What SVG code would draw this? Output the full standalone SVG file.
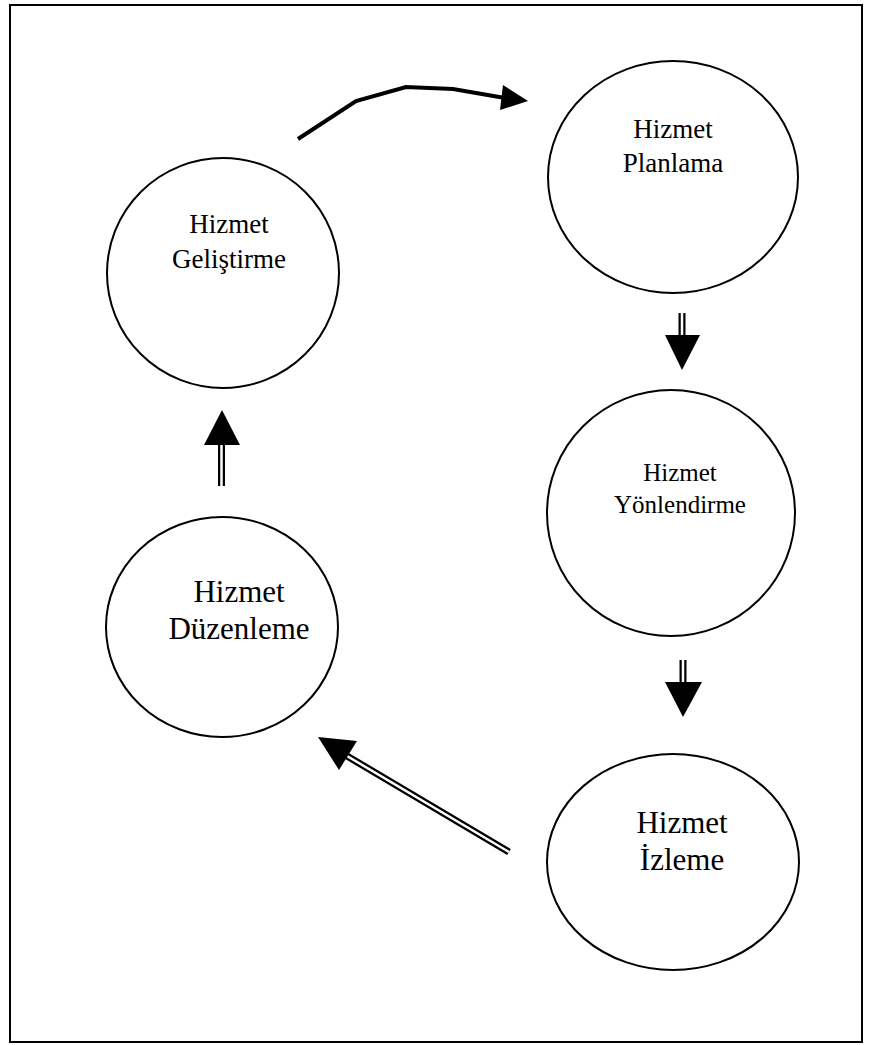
<svg xmlns="http://www.w3.org/2000/svg" width="870" height="1045" viewBox="0 0 870 1045">
  <style>
    .frame { fill: none; stroke: #000; stroke-width: 2; }
    .node ellipse { fill: #fff; stroke: #000; stroke-width: 2; }
    .node text { font-family: "Liberation Serif", "Times New Roman", serif; fill: #000; text-anchor: middle; }
    .thick { fill: none; stroke: #000; stroke-width: 4; stroke-linejoin: miter; }
    .dbl-outer { fill: none; stroke: #000; stroke-width: 7; }
    .dbl-inner { fill: none; stroke: #fff; stroke-width: 2.5; }
    .head { fill: #000; stroke: none; }
  </style>

  <rect width="870" height="1045" fill="#fff"/>
  <rect class="frame" x="10" y="5" width="852" height="1037"/>

  <!-- connectors -->
  <g id="connectors">
    <!-- Geliştirme -> Planlama -->
    <polyline class="thick" points="298,139 356,101 406,87 453,89 505,98"/>
    <polygon class="head" points="528,101 503,85 500,110"/>

    <!-- Planlama -> Yönlendirme -->
    <line class="dbl-outer" x1="682" y1="313" x2="682" y2="336"/>
    <line class="dbl-inner" x1="682" y1="313" x2="682" y2="336"/>
    <polygon class="head" points="665,335 700,335 682,370"/>

    <!-- Yönlendirme -> İzleme -->
    <line class="dbl-outer" x1="683" y1="660" x2="683" y2="683"/>
    <line class="dbl-inner" x1="683" y1="660" x2="683" y2="683"/>
    <polygon class="head" points="665,682 702,682 683,717"/>

    <!-- İzleme -> Düzenleme -->
    <line class="dbl-outer" x1="509" y1="852" x2="347" y2="756"/>
    <line class="dbl-inner" x1="509" y1="852" x2="347" y2="756"/>
    <polygon class="head" points="318,737 357,741 339,770"/>

    <!-- Düzenleme -> Geliştirme -->
    <line class="dbl-outer" x1="221.5" y1="486" x2="221.5" y2="444"/>
    <line class="dbl-inner" x1="221.5" y1="486" x2="221.5" y2="444"/>
    <polygon class="head" points="204,445 240,445 222,410"/>
  </g>

  <g id="node-planlama" class="node">
    <ellipse cx="673" cy="177" rx="125" ry="116"/>
    <text x="673" y="138" font-size="27">Hizmet</text>
    <text x="673" y="172" font-size="27">Planlama</text>
  </g>

  <g id="node-gelistirme" class="node">
    <ellipse cx="223" cy="273" rx="116" ry="115"/>
    <text x="229" y="233" font-size="27">Hizmet</text>
    <text x="229" y="268" font-size="27">Geliştirme</text>
  </g>

  <g id="node-yonlendirme" class="node">
    <ellipse cx="671" cy="513" rx="124" ry="123"/>
    <text x="680" y="481" font-size="25">Hizmet</text>
    <text x="680" y="513" font-size="25">Yönlendirme</text>
  </g>

  <g id="node-duzenleme" class="node">
    <ellipse cx="222" cy="627" rx="116" ry="110"/>
    <text x="239" y="602" font-size="31">Hizmet</text>
    <text x="239" y="639" font-size="31">Düzenleme</text>
  </g>

  <g id="node-izleme" class="node">
    <ellipse cx="673" cy="862" rx="126" ry="108"/>
    <text x="682" y="833" font-size="31">Hizmet</text>
    <text x="682" y="870" font-size="31">İzleme</text>
  </g>
</svg>
